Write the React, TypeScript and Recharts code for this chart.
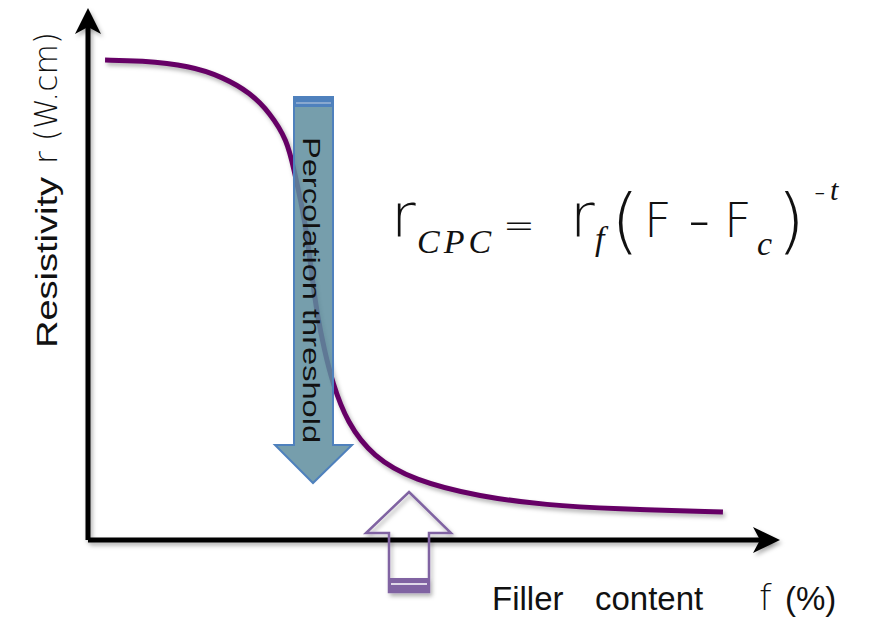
import { LineChart, Line, XAxis, YAxis, ReferenceLine } from 'recharts';

// filler content (%) vs resistivity (arbitrary units)
const fillerContent = [2.5, 7.6, 15, 19.8, 23.8, 26.7, 29.2, 30.2, 31.5, 32.3, 33, 33.7, 34.6, 35.8, 38, 41.8, 47.7, 57.5, 67.3, 77, 93.1];
const resistivity = [92.3, 92.2, 91.2, 89, 86, 82.1, 76.9, 71.2, 63.5, 56.7, 49, 42.7, 36.9, 30.4, 22.5, 16, 11.5, 8.3, 6.7, 6, 5.4];

const data = fillerContent.map((f, i) => ({ f, r: resistivity[i] }));

const SANS = '"Liberation Sans", Arial, sans-serif';
const THIN = '"DejaVu Sans", "Liberation Sans", sans-serif';
const SERIF = '"Liberation Serif", "Times New Roman", serif';

function Overlay() {
  return (
    <svg
      width={882}
      height={618}
      style={{ position: 'absolute', left: 0, top: 0, pointerEvents: 'none' }}
    >
      <defs>
        <filter id="shade" x="-20%" y="-20%" width="140%" height="140%">
          <feDropShadow dx="2" dy="3" stdDeviation="2" floodColor="#000" floodOpacity="0.3" />
        </filter>
      </defs>

      {/* axis arrow heads */}
      <g filter="url(#shade)">
        <polygon points="88,8 101,34 88,27 75,34" fill="#000" />
        <polygon points="780,540 753,527 760,540 753,553" fill="#000" />
      </g>

      {/* percolation threshold arrow (translucent, no shadow so the fill stays light) */}
      <polygon
        points="294,97 333,97 333,445 352,445 313,483 275,445 294,445"
        fill="#5e8d9e"
        fillOpacity={0.85}
        stroke="#4f81bd"
        strokeWidth={2}
      />
      <rect x={294} y={97} width={39} height={10} fill="#4f81bd" />
      <line x1={296} x2={331} y1={103} y2={103} stroke="#9cb6d6" strokeWidth={1.5} />
      <text
        transform="translate(303,137) rotate(90)"
        fontFamily={SANS}
        fontSize={24}
        fill="#111"
        textLength={306}
        lengthAdjust="spacingAndGlyphs"
      >
        Percolation threshold
      </text>

      {/* hollow arrow under the x axis */}
      <g filter="url(#shade)">
        <polygon
          points="409,492 451,533 429,533 429,592 389,592 389,533 366,533"
          fill="none"
          stroke="#8064a2"
          strokeWidth={2.5}
        />
        <rect x={389} y={578} width={40} height={14} fill="#8064a2" />
        <line x1={391} x2={427} y1={584} y2={584} stroke="#fff" strokeWidth={1.5} />
      </g>

      {/* y axis title */}
      <g fill="#111">
        <text
          transform="translate(57,348) rotate(-90)"
          fontFamily={SANS}
          fontSize={30}
          textLength={171}
          lengthAdjust="spacingAndGlyphs"
        >
          Resistivity
        </text>
        <text
          transform="translate(57,164) rotate(-90)"
          fontFamily={THIN}
          fontWeight={200}
          fontSize={32}
          textLength={132}
          lengthAdjust="spacingAndGlyphs"
        >
          r (W.cm)
        </text>
      </g>

      {/* x axis title */}
      <text y={610} fontFamily={SANS} fontSize={33} fill="#111">
        <tspan x={492}>Filler</tspan>
        <tspan x={595}>content</tspan>
        <tspan x={759} fontFamily={THIN} fontWeight={200} fontSize={36}>f</tspan>
        <tspan x={785}>(%)</tspan>
      </text>

      {/* percolation law */}
      <g fill="#111">
        <text x={391} y={237} fontFamily={THIN} fontWeight={200} fontSize={60}>r</text>
        <text x={417} y={253} fontFamily={SERIF} fontStyle="italic" fontSize={34} letterSpacing={4}>CPC</text>
        <text x={503} y={238} fontFamily={THIN} fontWeight={200} fontSize={38}>=</text>
        <text x={570} y={237} fontFamily={THIN} fontWeight={200} fontSize={60}>r</text>
        <text x={595} y={250} fontFamily={SERIF} fontStyle="italic" fontSize={34}>f</text>
        <text x={611} y={245} fontFamily={THIN} fontWeight={200} fontSize={72}>(</text>
        <text x={644} y={237} fontFamily={THIN} fontWeight={200} fontSize={48}>F</text>
        <text x={688} y={241} fontFamily={THIN} fontWeight={200} fontSize={62}>-</text>
        <text x={724} y={237} fontFamily={THIN} fontWeight={200} fontSize={48}>F</text>
        <text x={757} y={255} fontFamily={SERIF} fontStyle="italic" fontSize={34}>c</text>
        <text x={777} y={245} fontFamily={THIN} fontWeight={200} fontSize={72}>)</text>
        <text x={814} y={202} fontFamily={THIN} fontWeight={200} fontSize={32}>-</text>
        <text x={830} y={200} fontFamily={SERIF} fontStyle="italic" fontSize={30}>t</text>
      </g>
    </svg>
  );
}

export default function App() {
  return (
    <div style={{ position: 'absolute', left: 0, top: 0, width: 882, height: 618, background: '#fff' }}>
      <div style={{ filter: 'drop-shadow(2px 3px 2px rgba(0,0,0,0.3))' }}>
        <LineChart
          width={882}
          height={618}
          data={data}
          margin={{ top: 20, right: 112, bottom: 78, left: 88 }}
        >
          <XAxis type="number" dataKey="f" domain={[0, 100]} hide />
          <YAxis type="number" dataKey="r" domain={[0, 100]} hide />
          <ReferenceLine x={0} stroke="#000" strokeWidth={5} />
          <ReferenceLine y={0} stroke="#000" strokeWidth={5} />
          <Line
            type="basis"
            dataKey="r"
            stroke="#660066"
            strokeWidth={5}
            dot={false}
            isAnimationActive={false}
          />
        </LineChart>
      </div>
      <Overlay />
    </div>
  );
}
